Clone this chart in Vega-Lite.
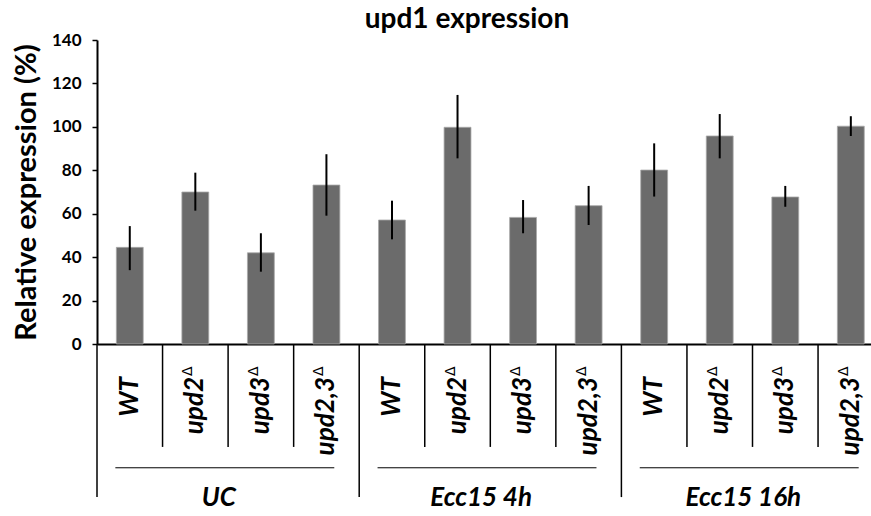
{
  "$schema": "https://vega.github.io/schema/vega-lite/v6.json",
  "autosize": {"type": "none"},
  "width": 774,
  "height": 304,
  "padding": {"left": 97, "top": 40, "right": 0, "bottom": 172},
  "background": "white",
  "config": {
    "view": {"stroke": null},
    "font": "Lato",
    "axisX": {"labels": false, "ticks": false, "domainColor": "black", "domainWidth": 2, "grid": false},
    "axisY": {"domainColor": "black", "domainWidth": 2, "tickColor": "black", "tickWidth": 1.5, "tickSize": 5, "labelFont": "Lato", "labelFontSize": 17, "labelFontWeight": "bold", "labelColor": "black", "labelPadding": 11, "grid": false, "titleFont": "Lato", "titleFontSize": 29, "titleFontWeight": "bold", "titleColor": "black", "titlePadding": 10}
  },
  "title": {"text": "upd1 expression", "fontSize": 28, "fontWeight": "bold", "font": "Lato", "color": "black", "dx": -17, "offset": -25, "anchor": "middle", "baseline": "alphabetic"},
  "resolve": {"axis": {"y": "independent"}},
  "data": {"values": [
    {"key": "UC WT", "condition": "UC", "genotype": "WT", "sup": "", "value": 44.5, "lo": 34.0, "hi": 54.3},
    {"key": "UC upd2", "condition": "UC", "genotype": "upd2", "sup": "Δ", "value": 70.0, "lo": 61.4, "hi": 78.9},
    {"key": "UC upd3", "condition": "UC", "genotype": "upd3", "sup": "Δ", "value": 42.0, "lo": 33.3, "hi": 51.0},
    {"key": "UC upd2,3", "condition": "UC", "genotype": "upd2,3", "sup": "Δ", "value": 73.2, "lo": 59.1, "hi": 87.4},
    {"key": "4h WT", "condition": "Ecc15 4h", "genotype": "WT", "sup": "", "value": 57.1, "lo": 48.2, "hi": 66.0},
    {"key": "4h upd2", "condition": "Ecc15 4h", "genotype": "upd2", "sup": "Δ", "value": 99.8, "lo": 85.5, "hi": 114.7},
    {"key": "4h upd3", "condition": "Ecc15 4h", "genotype": "upd3", "sup": "Δ", "value": 58.3, "lo": 51.0, "hi": 66.3},
    {"key": "4h upd2,3", "condition": "Ecc15 4h", "genotype": "upd2,3", "sup": "Δ", "value": 63.7, "lo": 54.8, "hi": 72.8},
    {"key": "16h WT", "condition": "Ecc15 16h", "genotype": "WT", "sup": "", "value": 80.1, "lo": 67.9, "hi": 92.4},
    {"key": "16h upd2", "condition": "Ecc15 16h", "genotype": "upd2", "sup": "Δ", "value": 95.8, "lo": 85.5, "hi": 105.9},
    {"key": "16h upd3", "condition": "Ecc15 16h", "genotype": "upd3", "sup": "Δ", "value": 67.7, "lo": 63.2, "hi": 72.8},
    {"key": "16h upd2,3", "condition": "Ecc15 16h", "genotype": "upd2,3", "sup": "Δ", "value": 100.3, "lo": 95.8, "hi": 104.9}
  ]},
  "layer": [
    {
      "mark": {"type": "bar", "width": {"band": 0.41}, "color": "#6b6b6b", "stroke": "#a8a8a8", "strokeWidth": 0.8},
      "encoding": {
        "x": {"field": "key", "type": "nominal", "sort": null, "title": null, "scale": {"range": [0, 786.6], "paddingInner": 0, "paddingOuter": 0}},
        "y": {"field": "value", "type": "quantitative", "title": "Relative expression (%)", "scale": {"domain": [0, 140], "nice": false}, "axis": {"values": [0, 20, 40, 60, 80, 100, 120, 140]}}
      }
    },
    {
      "mark": {"type": "rule", "color": "black", "strokeWidth": 2},
      "encoding": {
        "x": {"field": "key", "type": "nominal", "sort": null, "title": null},
        "y": {"field": "lo", "type": "quantitative", "scale": {"domain": [0, 140], "nice": false}, "axis": null},
        "y2": {"field": "hi"}
      }
    },
    {
      "transform": [{"filter": "datum.genotype !== 'WT'"}],
      "mark": {"type": "rule", "color": "black", "strokeWidth": 1.5},
      "encoding": {
        "x": {"field": "key", "type": "nominal", "sort": null, "title": null, "bandPosition": 0},
        "y": {"datum": 0, "type": "quantitative", "scale": {"domain": [0, 140], "nice": false}, "axis": null},
        "y2": {"datum": -47.4}
      }
    },
    {
      "transform": [{"filter": "datum.genotype === 'WT'"}],
      "mark": {"type": "rule", "color": "black", "strokeWidth": 1.5},
      "encoding": {
        "x": {"field": "key", "type": "nominal", "sort": null, "title": null, "bandPosition": 0},
        "y": {"datum": 0, "type": "quantitative", "scale": {"domain": [0, 140], "nice": false}, "axis": null},
        "y2": {"datum": -70.5}
      }
    },
    {
      "transform": [{"filter": "datum.genotype === 'WT'"}],
      "mark": {"type": "rule", "color": "black", "strokeWidth": 1},
      "encoding": {
        "x": {"field": "key", "type": "nominal", "sort": null, "title": null, "bandPosition": 0.28},
        "x2": {"field": "key", "bandPosition": 3.62},
        "y": {"datum": -57, "type": "quantitative", "scale": {"domain": [0, 140], "nice": false}, "axis": null}
      }
    },
    {
      "mark": {"type": "text", "angle": 270, "align": "right", "baseline": "middle", "fontSize": 26, "fontWeight": "bold", "fontStyle": "italic", "font": "Lato", "color": "black"},
      "encoding": {
        "x": {"field": "key", "type": "nominal", "sort": null, "title": null},
        "y": {"datum": -15.2, "type": "quantitative", "scale": {"domain": [0, 140], "nice": false}, "axis": null},
        "text": {"field": "genotype"}
      }
    },
    {
      "mark": {"type": "text", "angle": 270, "align": "left", "baseline": "middle", "fontSize": 14, "fontWeight": "normal", "font": "DejaVu Sans", "color": "black", "dx": 1, "dy": -7},
      "encoding": {
        "x": {"field": "key", "type": "nominal", "sort": null, "title": null},
        "y": {"datum": -15.2, "type": "quantitative", "scale": {"domain": [0, 140], "nice": false}, "axis": null},
        "text": {"field": "sup"}
      }
    },
    {
      "transform": [{"filter": "datum.genotype === 'WT'"}],
      "mark": {"type": "text", "align": "center", "baseline": "alphabetic", "fontSize": 26, "fontWeight": "bold", "fontStyle": "italic", "font": "Lato", "color": "black"},
      "encoding": {
        "x": {"field": "key", "type": "nominal", "sort": null, "title": null, "bandPosition": 1.86},
        "y": {"datum": -74.6, "type": "quantitative", "scale": {"domain": [0, 140], "nice": false}, "axis": null},
        "text": {"field": "condition"}
      }
    }
  ]
}
